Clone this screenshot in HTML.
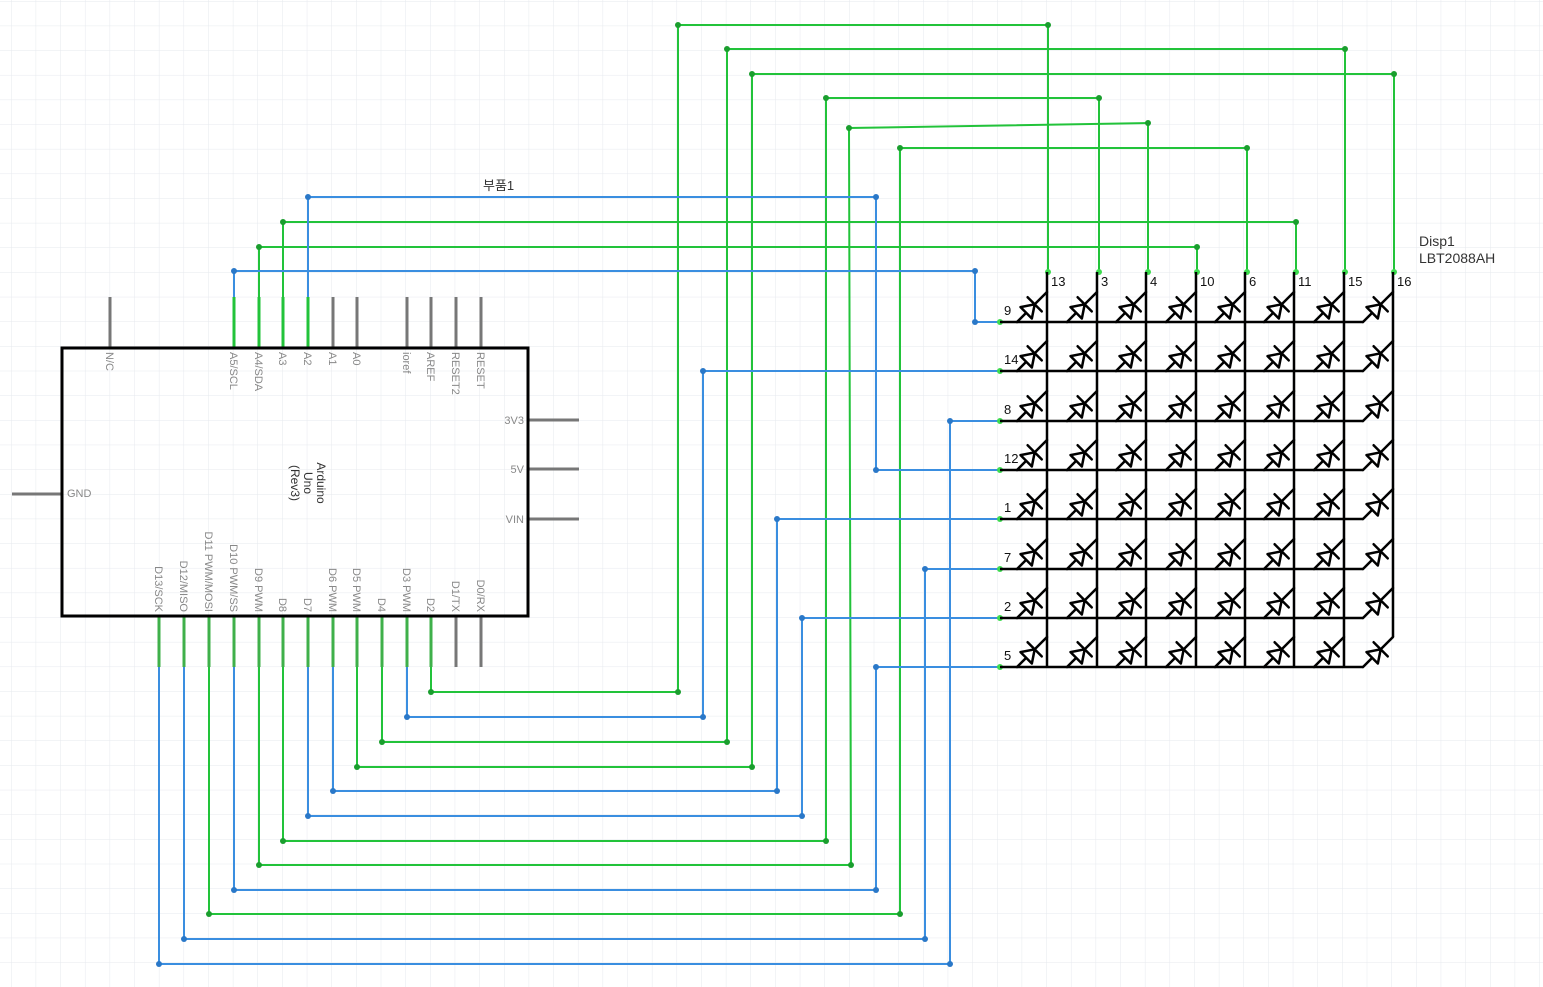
<!DOCTYPE html>
<html><head><meta charset="utf-8"><style>
html,body{margin:0;padding:0;background:#fff;}
svg{display:block;}
text{font-family:"Liberation Sans","Noto Sans CJK KR",sans-serif;}
</style></head><body>
<svg width="1543" height="987" viewBox="0 0 1543 987" xmlns="http://www.w3.org/2000/svg" xmlns:xlink="http://www.w3.org/1999/xlink">
<defs>
<pattern id="g" x="11" y="1" width="24.65" height="24.65" patternUnits="userSpaceOnUse">
<path d="M0 0H24.65M0 0V24.65" stroke="#e6e9ee" stroke-width="1" fill="none"/>
</pattern>
<g id="d"><g transform="rotate(-45)" stroke="#000" stroke-width="2.5" stroke-linecap="round">
<line x1="0" y1="0" x2="42.4" y2="0"/>
<polygon points="13,-8 13,8 25,0" fill="#fff" stroke-linejoin="round"/>
<line x1="25" y1="-10" x2="25" y2="10"/>
</g></g>
<g id="r"><use xlink:href="#d" x="1017"/><use xlink:href="#d" x="1067"/><use xlink:href="#d" x="1116"/><use xlink:href="#d" x="1166"/><use xlink:href="#d" x="1215"/><use xlink:href="#d" x="1264"/><use xlink:href="#d" x="1314"/><use xlink:href="#d" x="1363"/>
<line x1="1000" y1="0" x2="1363" y2="0" stroke="#000" stroke-width="2.5"/></g>
</defs>
<rect width="1543" height="987" fill="url(#g)"/>

<g fill="none" stroke-width="2">
<g stroke="#22c33a">
<polyline points="431,667 431,692 678,692 678,25 1048,25 1048,272"/>
<polyline points="382,667 382,742 727,742 727,49 1345,49 1345,272"/>
<polyline points="357,667 357,767 752,767 752,74 1394,74 1394,272"/>
<polyline points="283,667 283,841 826,841 826,98 1099,98 1099,272"/>
<polyline points="259,667 259,865 851,865 849,128 1148,123 1148,272"/>
<polyline points="209,667 209,914 900,914 900,148 1247,148 1247,272"/>
<polyline points="283,297 283,222 1296,222 1296,272"/>
<polyline points="259,297 259,247 1197,247 1197,272"/>
</g>
<g stroke="#3a8ee0">
<polyline points="308,297 308,197 876,197 876,470 1000,470"/>
<polyline points="234,297 234,271 975,271 975,322 1000,322"/>
<polyline points="407,667 407,717 703,717 703,371 1000,371"/>
<polyline points="333,667 333,791 777,791 777,519 1000,519"/>
<polyline points="308,667 308,816 802,816 802,618 1000,618"/>
<polyline points="234,667 234,890 876,890 876,667 1000,667"/>
<polyline points="184,667 184,939 925,939 925,569 1000,569"/>
<polyline points="159,667 159,964 950,964 950,421 1000,421"/>
</g>
</g>
<g fill="#1a9e2e">
<circle cx="431" cy="692" r="3"/><circle cx="678" cy="692" r="3"/><circle cx="678" cy="25" r="3"/><circle cx="1048" cy="25" r="3"/>
<circle cx="382" cy="742" r="3"/><circle cx="727" cy="742" r="3"/><circle cx="727" cy="49" r="3"/><circle cx="1345" cy="49" r="3"/>
<circle cx="357" cy="767" r="3"/><circle cx="752" cy="767" r="3"/><circle cx="752" cy="74" r="3"/><circle cx="1394" cy="74" r="3"/>
<circle cx="283" cy="841" r="3"/><circle cx="826" cy="841" r="3"/><circle cx="826" cy="98" r="3"/><circle cx="1099" cy="98" r="3"/>
<circle cx="259" cy="865" r="3"/><circle cx="851" cy="865" r="3"/><circle cx="849" cy="128" r="3"/><circle cx="1148" cy="123" r="3"/>
<circle cx="209" cy="914" r="3"/><circle cx="900" cy="914" r="3"/><circle cx="900" cy="148" r="3"/><circle cx="1247" cy="148" r="3"/>
<circle cx="283" cy="222" r="3"/><circle cx="1296" cy="222" r="3"/><circle cx="259" cy="247" r="3"/><circle cx="1197" cy="247" r="3"/>
</g>
<g fill="#2a78c8">
<circle cx="308" cy="197" r="3"/><circle cx="876" cy="197" r="3"/><circle cx="876" cy="470" r="3"/>
<circle cx="234" cy="271" r="3"/><circle cx="975" cy="271" r="3"/><circle cx="975" cy="322" r="3"/>
<circle cx="407" cy="717" r="3"/><circle cx="703" cy="717" r="3"/><circle cx="703" cy="371" r="3"/>
<circle cx="333" cy="791" r="3"/><circle cx="777" cy="791" r="3"/><circle cx="777" cy="519" r="3"/>
<circle cx="308" cy="816" r="3"/><circle cx="802" cy="816" r="3"/><circle cx="802" cy="618" r="3"/>
<circle cx="234" cy="890" r="3"/><circle cx="876" cy="890" r="3"/><circle cx="876" cy="667" r="3"/>
<circle cx="184" cy="939" r="3"/><circle cx="925" cy="939" r="3"/><circle cx="925" cy="569" r="3"/>
<circle cx="159" cy="964" r="3"/><circle cx="950" cy="964" r="3"/><circle cx="950" cy="421" r="3"/>
</g>
<g fill="#3ddc4f">
<circle cx="1000" cy="322" r="3"/><circle cx="1000" cy="371" r="3"/><circle cx="1000" cy="421" r="3"/><circle cx="1000" cy="470" r="3"/><circle cx="1000" cy="519" r="3"/><circle cx="1000" cy="569" r="3"/><circle cx="1000" cy="618" r="3"/><circle cx="1000" cy="667" r="3"/>
<circle cx="1048" cy="272" r="3"/><circle cx="1099" cy="272" r="3"/><circle cx="1148" cy="272" r="3"/><circle cx="1197" cy="272" r="3"/><circle cx="1247" cy="272" r="3"/><circle cx="1296" cy="272" r="3"/><circle cx="1345" cy="272" r="3"/><circle cx="1394" cy="272" r="3"/>
</g>

<!-- Arduino -->
<g stroke-width="3">
<g stroke="#777"><line x1="110" y1="297" x2="110" y2="348"/><line x1="333" y1="297" x2="333" y2="348"/><line x1="357" y1="297" x2="357" y2="348"/><line x1="407" y1="297" x2="407" y2="348"/><line x1="431" y1="297" x2="431" y2="348"/><line x1="456" y1="297" x2="456" y2="348"/><line x1="481" y1="297" x2="481" y2="348"/>
<line x1="456" y1="616" x2="456" y2="667"/><line x1="481" y1="616" x2="481" y2="667"/>
<line x1="528" y1="420" x2="579" y2="420"/><line x1="528" y1="469" x2="579" y2="469"/><line x1="528" y1="519" x2="579" y2="519"/><line x1="12" y1="494" x2="62" y2="494"/></g>
<g stroke="#22c33a"><line x1="234" y1="297" x2="234" y2="348"/><line x1="259" y1="297" x2="259" y2="348"/><line x1="283" y1="297" x2="283" y2="348"/><line x1="308" y1="297" x2="308" y2="348"/></g>
<g stroke="#3fb04a"><line x1="159" y1="616" x2="159" y2="667"/><line x1="184" y1="616" x2="184" y2="667"/><line x1="209" y1="616" x2="209" y2="667"/><line x1="234" y1="616" x2="234" y2="667"/><line x1="259" y1="616" x2="259" y2="667"/><line x1="283" y1="616" x2="283" y2="667"/><line x1="308" y1="616" x2="308" y2="667"/><line x1="333" y1="616" x2="333" y2="667"/><line x1="357" y1="616" x2="357" y2="667"/><line x1="382" y1="616" x2="382" y2="667"/><line x1="407" y1="616" x2="407" y2="667"/><line x1="431" y1="616" x2="431" y2="667"/></g>
</g>
<rect x="62" y="348" width="466" height="268" fill="none" stroke="#000" stroke-width="3"/>
<g font-size="11" fill="#888">
<text transform="translate(106,352) rotate(90)">N/C</text>
<text transform="translate(230,352) rotate(90)">A5/SCL</text>
<text transform="translate(255,352) rotate(90)">A4/SDA</text>
<text transform="translate(279,352) rotate(90)">A3</text>
<text transform="translate(304,352) rotate(90)">A2</text>
<text transform="translate(329,352) rotate(90)">A1</text>
<text transform="translate(353,352) rotate(90)">A0</text>
<text transform="translate(403,352) rotate(90)">ioref</text>
<text transform="translate(427,352) rotate(90)">AREF</text>
<text transform="translate(452,352) rotate(90)">RESET2</text>
<text transform="translate(477,352) rotate(90)">RESET</text>
<g text-anchor="end">
<text transform="translate(155,612) rotate(90)">D13/SCK</text>
<text transform="translate(180,612) rotate(90)">D12/MISO</text>
<text transform="translate(205,612) rotate(90)">D11 PWM/MOSI</text>
<text transform="translate(230,612) rotate(90)">D10 PWM/SS</text>
<text transform="translate(255,612) rotate(90)">D9 PWM</text>
<text transform="translate(279,612) rotate(90)">D8</text>
<text transform="translate(304,612) rotate(90)">D7</text>
<text transform="translate(329,612) rotate(90)">D6 PWM</text>
<text transform="translate(353,612) rotate(90)">D5 PWM</text>
<text transform="translate(378,612) rotate(90)">D4</text>
<text transform="translate(403,612) rotate(90)">D3 PWM</text>
<text transform="translate(427,612) rotate(90)">D2</text>
<text transform="translate(452,612) rotate(90)">D1/TX</text>
<text transform="translate(477,612) rotate(90)">D0/RX</text>
<text x="524" y="424">3V3</text><text x="524" y="473">5V</text><text x="524" y="523">VIN</text>
</g>
<text x="67" y="497">GND</text>
</g>
<g font-size="12" fill="#333" text-anchor="middle">
<text transform="translate(317,483) rotate(90)">Arduino</text>
<text transform="translate(304,483) rotate(90)">Uno</text>
<text transform="translate(291,483) rotate(90)">(Rev3)</text>
</g>

<!-- Matrix -->
<g stroke="#000" stroke-width="2.5">
<line x1="1047" y1="272" x2="1047" y2="667"/><line x1="1097" y1="272" x2="1097" y2="667"/><line x1="1146" y1="272" x2="1146" y2="667"/><line x1="1196" y1="272" x2="1196" y2="667"/><line x1="1245" y1="272" x2="1245" y2="667"/><line x1="1294" y1="272" x2="1294" y2="667"/><line x1="1344" y1="272" x2="1344" y2="667"/><line x1="1393" y1="272" x2="1393" y2="637"/>
</g>
<use xlink:href="#r" y="322"/><use xlink:href="#r" y="371"/><use xlink:href="#r" y="421"/><use xlink:href="#r" y="470"/><use xlink:href="#r" y="519"/><use xlink:href="#r" y="569"/><use xlink:href="#r" y="618"/><use xlink:href="#r" y="667"/>
<g font-size="13" fill="#111">
<text x="1051" y="286">13</text><text x="1101" y="286">3</text><text x="1150" y="286">4</text><text x="1200" y="286">10</text><text x="1249" y="286">6</text><text x="1298" y="286">11</text><text x="1348" y="286">15</text><text x="1397" y="286">16</text>
<text x="1004" y="315">9</text><text x="1004" y="364">14</text><text x="1004" y="414">8</text><text x="1004" y="463">12</text><text x="1004" y="512">1</text><text x="1004" y="562">7</text><text x="1004" y="611">2</text><text x="1004" y="660">5</text>
</g>
<text x="483" y="190" font-size="13" fill="#333">부품1</text>
<text x="1419" y="246" font-size="14" fill="#333">Disp1</text>
<text x="1419" y="263" font-size="14" fill="#333">LBT2088AH</text>
</svg>
</body></html>
